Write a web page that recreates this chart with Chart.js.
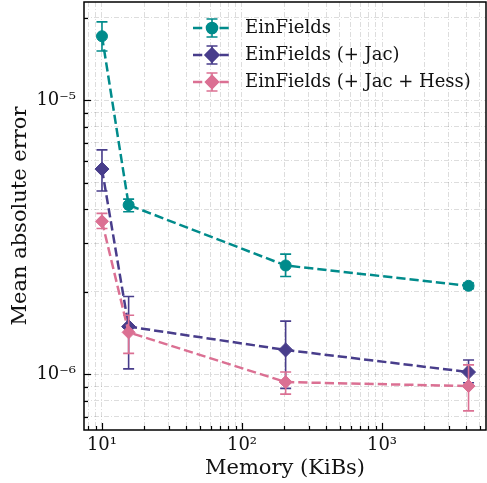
<!DOCTYPE html>
<html><head><meta charset="utf-8">
<script src="https://cdn.jsdelivr.net/npm/chart.js@4/dist/chart.umd.min.js"></script>
<style>html,body{margin:0;padding:0;background:#fff}#wrap{width:487px;height:483px;position:relative}</style>
</head><body><div id="wrap"><canvas id="c"></canvas></div>
<script>
// ---- data ----
const memory = [10, 15.5, 205, 4150];                 // KiBs
const seriesNames = ['EinFields', 'EinFields (+ Jac)', 'EinFields (+ Jac + Hess)'];
const maeEin      = [1.71e-5, 4.14e-6, 2.49e-6, 2.10e-6];
const maeEinLo    = [1.51e-5, 3.91e-6, 2.27e-6, 2.05e-6];
const maeEinHi    = [1.93e-5, 4.35e-6, 2.74e-6, 2.15e-6];
const maeJac      = [5.60e-6, 1.49e-6, 1.225e-6, 1.017e-6];
const maeJacLo    = [4.66e-6, 1.045e-6, 0.887e-6, 0.93e-6];
const maeJacHi    = [6.58e-6, 1.92e-6, 1.56e-6, 1.125e-6];
const maeHess     = [3.61e-6, 1.42e-6, 0.935e-6, 0.904e-6];
const maeHessLo   = [3.40e-6, 1.19e-6, 0.845e-6, 0.734e-6];
const maeHessHi   = [3.86e-6, 1.64e-6, 1.017e-6, 1.08e-6];
const xMajorTicks = [10, 100, 1000];
const xMajorLabels = ['10\u00B9', '10\u00B2', '10\u00B3'];
const yMajorTicks = [1e-6, 1e-5];
const yMajorLabels = ['10\u207B\u2076', '10\u207B\u2075'];

const colors = ['#008B8B', '#483D8B', '#DB7093'];
const markers = ['circle', 'rectRot', 'rectRot'];
const markerRadius = [5.5, 7, 6.5];
const values = [maeEin, maeJac, maeHess];
const lows = [maeEinLo, maeJacLo, maeHessLo];
const highs = [maeEinHi, maeJacHi, maeHessHi];
const SERIF = "'DejaVu Serif', serif";
const DASH = [9.25, 4];

function logTicks(min, max) {
  const out = [];
  for (let e = Math.floor(Math.log10(min)); e <= Math.ceil(Math.log10(max)); e++) {
    for (let k = 1; k <= 9; k++) {
      const v = k * Math.pow(10, e);
      if (v >= min && v <= max) out.push(v);
    }
  }
  return out;
}
function isMajor(v, majors) { return majors.findIndex(m => Math.abs(Math.log10(v) - Math.log10(m)) < 1e-9); }
function zeroPad(s) { s.paddingTop = 0; s.paddingBottom = 0; s.paddingLeft = 0; s.paddingRight = 0; }

const errorBars = {
  id: 'errorBars',
  beforeDatasetDraw(chart, args) {
    const i = args.index;
    const xs = chart.scales.x, ys = chart.scales.y, ctx = chart.ctx;
    ctx.save();
    ctx.strokeStyle = colors[i];
    ctx.lineWidth = 1.6;
    ctx.setLineDash([]);
    memory.forEach((m, j) => {
      const px = xs.getPixelForValue(m);
      const y1 = ys.getPixelForValue(lows[i][j]);
      const y2 = ys.getPixelForValue(highs[i][j]);
      ctx.beginPath();
      ctx.moveTo(px, y1); ctx.lineTo(px, y2);
      ctx.moveTo(px - 5.5, y1); ctx.lineTo(px + 5.5, y1);
      ctx.moveTo(px - 5.5, y2); ctx.lineTo(px + 5.5, y2);
      ctx.stroke();
    });
    ctx.restore();
  }
};

const frameAndLegend = {
  id: 'frameAndLegend',
  afterDraw(chart) {
    const ctx = chart.ctx, a = chart.chartArea;
    const xs = chart.scales.x, ys = chart.scales.y;
    ctx.save();
    // inward tick marks
    ctx.strokeStyle = '#000';
    ctx.lineWidth = 1.2;
    ctx.setLineDash([]);
    xs.ticks.forEach(t => {
      const px = Math.round(xs.getPixelForValue(t.value)) + 0.5;
      const len = isMajor(t.value, xMajorTicks) >= 0 ? 7 : 4;
      ctx.beginPath(); ctx.moveTo(px, a.bottom); ctx.lineTo(px, a.bottom - len); ctx.stroke();
    });
    ys.ticks.forEach(t => {
      const py = Math.round(ys.getPixelForValue(t.value)) + 0.5;
      const len = isMajor(t.value, yMajorTicks) >= 0 ? 7 : 4;
      ctx.beginPath(); ctx.moveTo(a.left, py); ctx.lineTo(a.left + len, py); ctx.stroke();
    });
    // frame
    ctx.lineWidth = 1.5;
    ctx.strokeRect(a.left, a.top, a.right - a.left, a.bottom - a.top);
    // legend
    const lx0 = 193, lx1 = 231, mx = 212, tx = 245;
    const rows = [28, 55, 82];
    seriesNames.forEach((name, i) => {
      const y = rows[i];
      ctx.strokeStyle = colors[i]; ctx.fillStyle = colors[i];
      ctx.lineWidth = 2.5;
      ctx.setLineDash(DASH);
      ctx.beginPath(); ctx.moveTo(lx0, y); ctx.lineTo(lx1, y); ctx.stroke();
      ctx.setLineDash([]);
      ctx.lineWidth = 1.6;
      ctx.beginPath();
      ctx.moveTo(mx, y - 9); ctx.lineTo(mx, y + 9);
      ctx.moveTo(mx - 5.5, y - 9); ctx.lineTo(mx + 5.5, y - 9);
      ctx.moveTo(mx - 5.5, y + 9); ctx.lineTo(mx + 5.5, y + 9);
      ctx.stroke();
      Chart.helpers.drawPoint(ctx, {pointStyle: markers[i], radius: markerRadius[i], rotation: 0, borderWidth: 1}, mx, y);
      ctx.fill();
      ctx.fillStyle = '#111';
      ctx.font = '18px ' + SERIF;
      ctx.textBaseline = 'middle';
      ctx.textAlign = 'left';
      ctx.fillText(name, tx, y);
    });
    ctx.restore();
  }
};

const datasets = seriesNames.map((name, i) => ({
  label: name,
  data: memory.map((m, j) => ({x: m, y: values[i][j]})),
  borderColor: colors[i],
  backgroundColor: colors[i],
  borderWidth: 2.5,
  borderDash: DASH,
  pointStyle: markers[i],
  pointRadius: markerRadius[i],
  pointBorderWidth: 1,
  pointHoverRadius: markerRadius[i],
  tension: 0,
  order: 2 - i
}));

const gridOpts = {
  color: 'rgba(0,0,0,0.17)',
  lineWidth: 0.8,
  drawTicks: false
};

new Chart(document.getElementById('c'), {
  type: 'line',
  data: {datasets},
  options: {
    responsive: true,
    maintainAspectRatio: false,
    animation: false,
    events: [],
    layout: {autoPadding: false, padding: {left: 0, right: 1, top: 2, bottom: 0}},
    plugins: {legend: {display: false}, tooltip: {enabled: false}},
    scales: {
      x: {
        type: 'logarithmic',
        min: 7.44, max: 5530,
        afterBuildTicks: s => { s.ticks = logTicks(7.44, 5530).map(v => ({value: v})); },
        afterFit: s => { s.height = 53; zeroPad(s); },
        grid: gridOpts,
        border: {display: false, dash: [5, 2, 1, 2]},
        ticks: {
          autoSkip: false, maxRotation: 0, padding: 5,
          color: '#111', font: {family: SERIF, size: 18},
          callback: v => { const k = isMajor(v, xMajorTicks); return k >= 0 ? xMajorLabels[k] : ''; }
        },
        title: {display: true, text: 'Memory (KiBs)', color: '#111', font: {family: SERIF, size: 21}, padding: {top: 0, bottom: 2}}
      },
      y: {
        type: 'logarithmic',
        min: 6.25e-7, max: 2.28e-5,
        afterBuildTicks: s => { s.ticks = logTicks(6.25e-7, 2.28e-5).map(v => ({value: v})); },
        afterFit: s => { s.width = 84; zeroPad(s); },
        grid: gridOpts,
        border: {display: false, dash: [5, 2, 1, 2]},
        ticks: {
          autoSkip: false, padding: 8,
          color: '#111', font: {family: SERIF, size: 18},
          callback: v => { const k = isMajor(v, yMajorTicks); return k >= 0 ? yMajorLabels[k] : ''; }
        },
        title: {display: true, text: 'Mean absolute error', color: '#111', font: {family: SERIF, size: 21}, padding: {top: 8, bottom: 0}}
      }
    }
  },
  plugins: [errorBars, frameAndLegend]
});
</script>
</body></html>
